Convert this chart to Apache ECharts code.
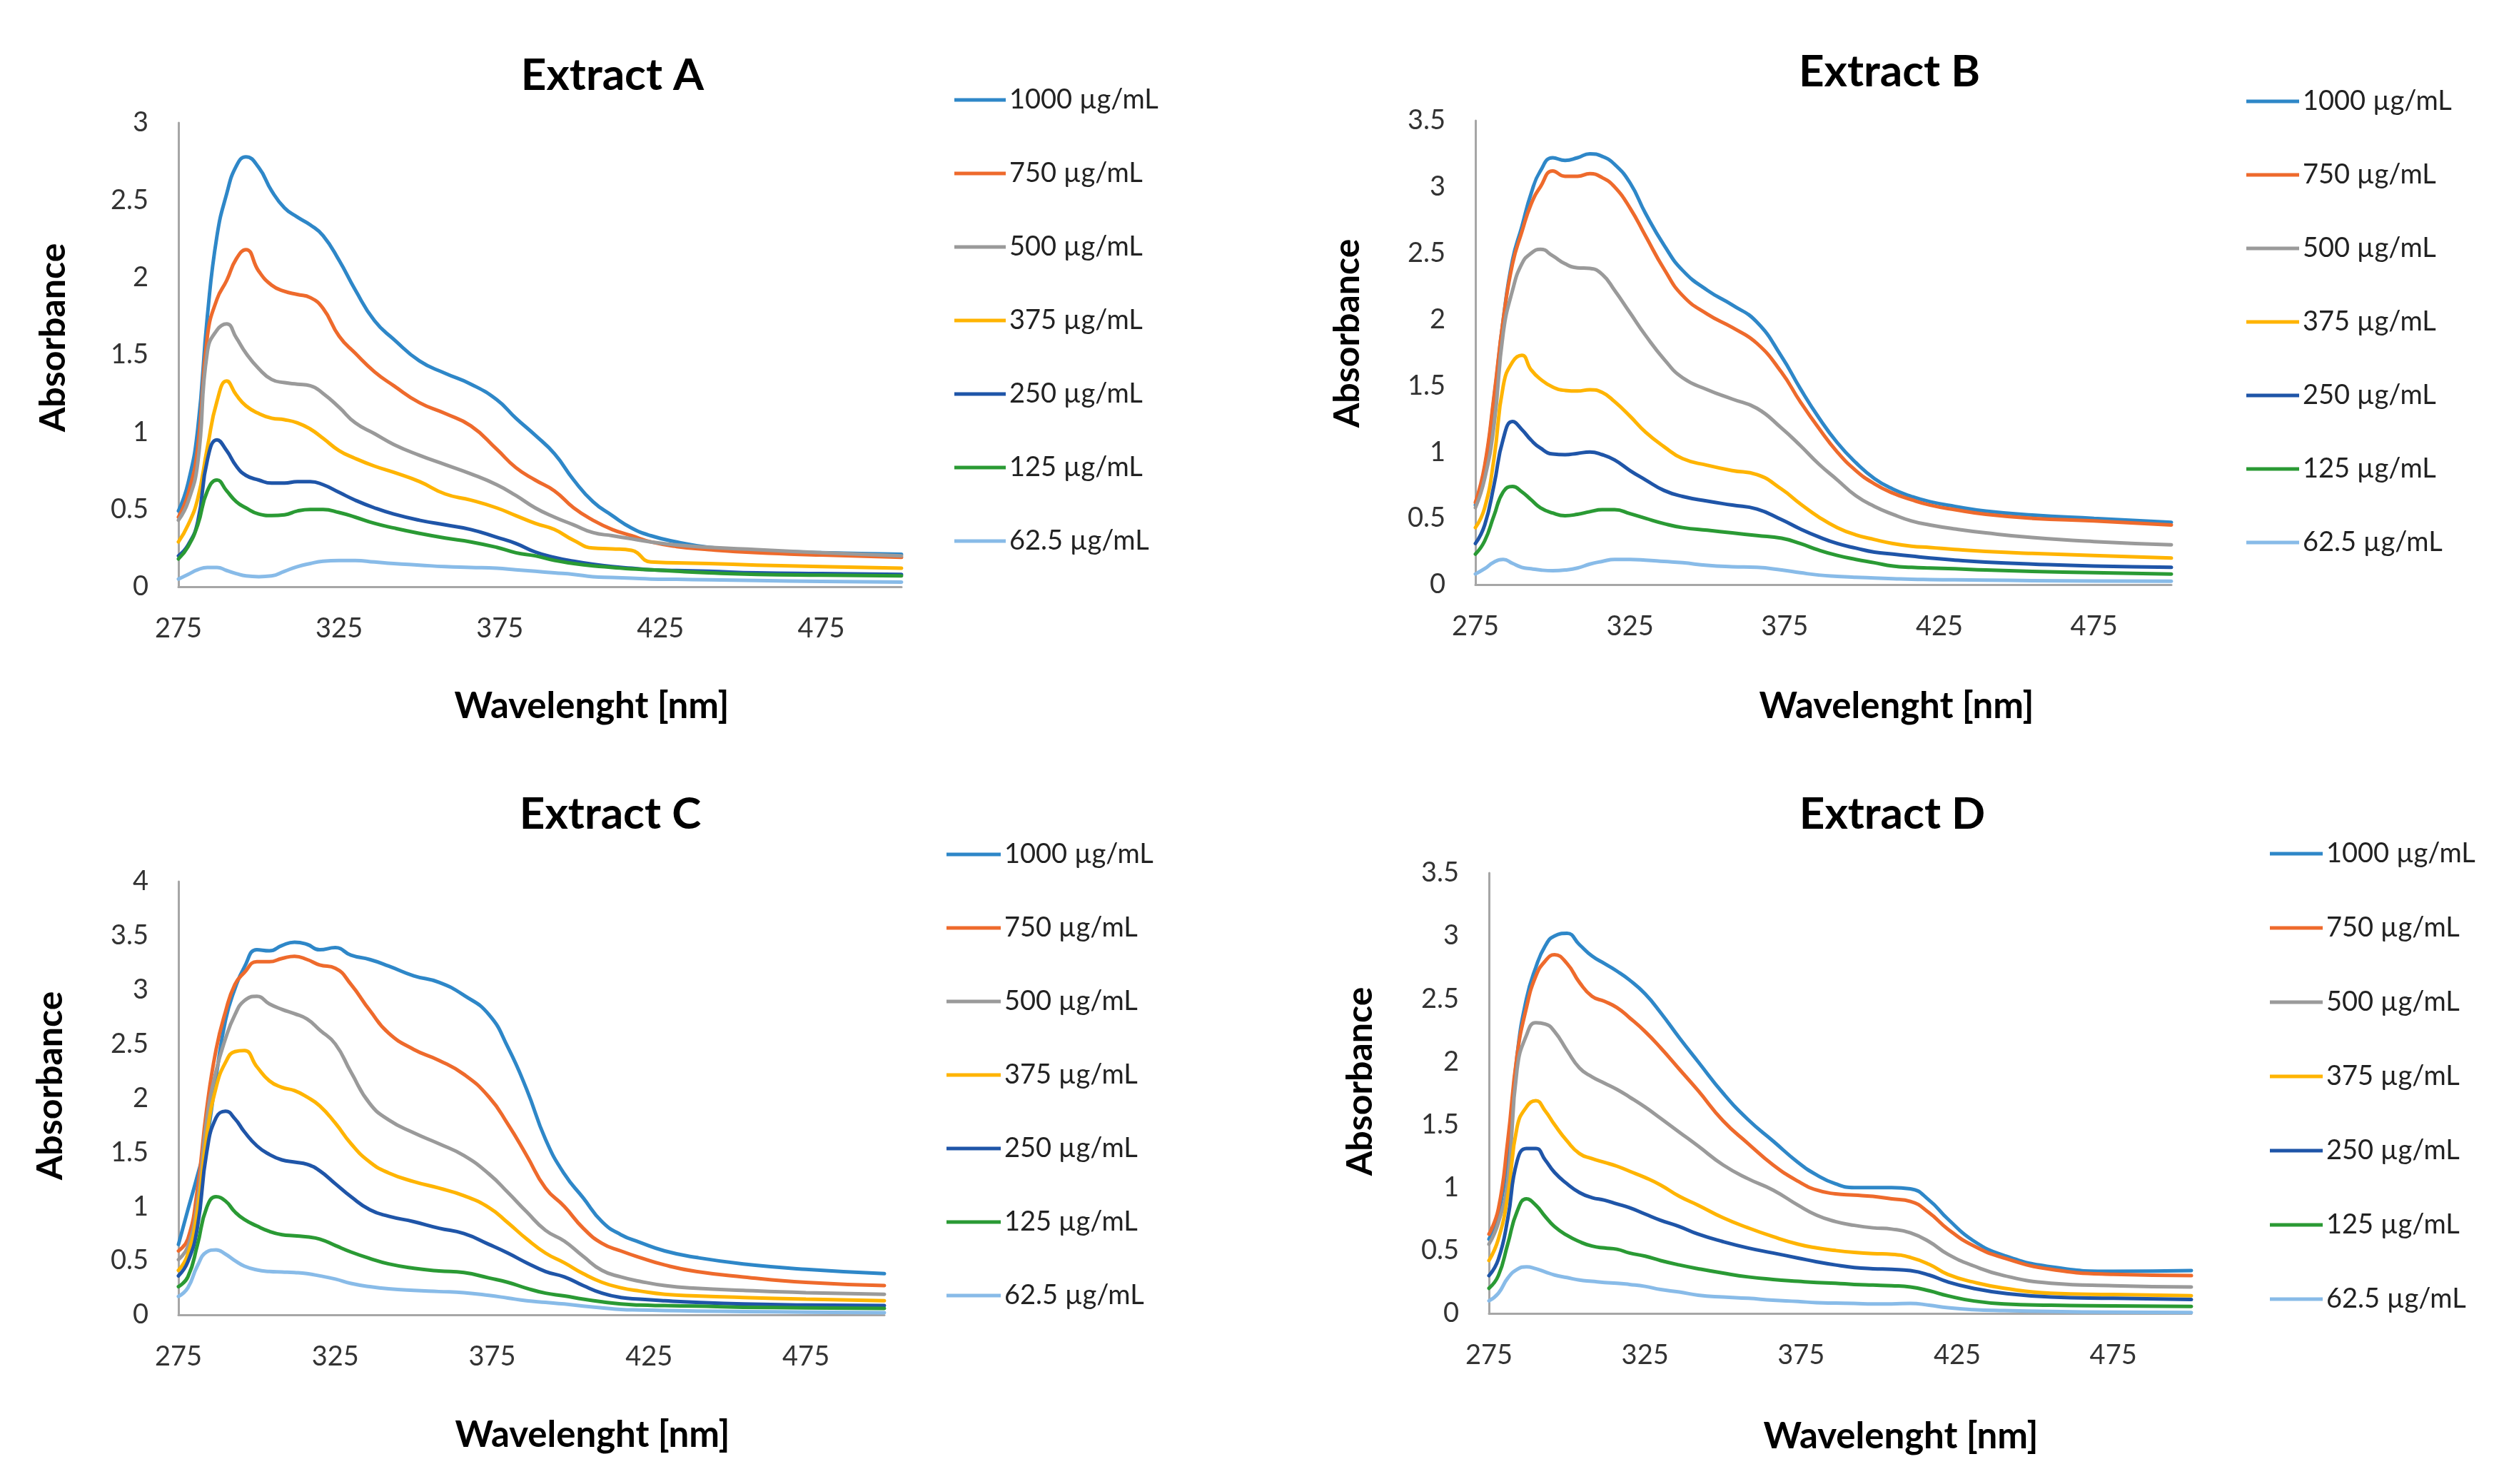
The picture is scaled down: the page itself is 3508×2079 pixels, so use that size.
<!DOCTYPE html>
<html>
<head>
<meta charset="utf-8">
<script src="https://cdn.jsdelivr.net/npm/echarts@6/dist/echarts.min.js"></script>
<style>
html,body{margin:0;padding:0;background:#fff;}
#chart{width:3508px;height:2079px;}
</style>
</head>
<body>
<div id="chart"></div>
<script>
// ---- shared wavelength grid (nm) ----
const wavelengths = [275,278,281,284,287,290,293,296,300,304,308,312,316,320,325,330,336,342,350,358,366,374,380,386,392,398,404,410,416,422,430,440,455,475,500];
const seriesNames = ['1000 µg/mL','750 µg/mL','500 µg/mL','375 µg/mL','250 µg/mL','125 µg/mL','62.5 µg/mL'];
const xTickLabels = [275,325,375,425,475];
const panelTitles = ['Extract A','Extract B','Extract C','Extract D'];
const yMaxes = [3,3.5,4,3.5];

// ---- Extract A ----
const a1000 = [0.49,0.67,1.02,1.75,2.27,2.54,2.72,2.78,2.71,2.56,2.45,2.39,2.34,2.27,2.11,1.92,1.72,1.60,1.46,1.38,1.31,1.21,1.09,0.98,0.86,0.69,0.55,0.46,0.38,0.33,0.29,0.255,0.235,0.22,0.21];
const a750  = [0.45,0.60,0.90,1.62,1.86,1.98,2.12,2.18,2.04,1.95,1.91,1.89,1.87,1.80,1.62,1.51,1.39,1.30,1.19,1.12,1.04,0.89,0.77,0.69,0.62,0.51,0.43,0.37,0.33,0.29,0.26,0.24,0.22,0.205,0.19];
const a500  = [0.43,0.55,0.80,1.52,1.66,1.70,1.61,1.51,1.41,1.34,1.32,1.31,1.30,1.25,1.16,1.06,0.99,0.92,0.85,0.79,0.73,0.66,0.59,0.51,0.45,0.40,0.35,0.33,0.31,0.29,0.27,0.255,0.24,0.22,0.20];
const a375  = [0.29,0.40,0.57,0.90,1.20,1.33,1.24,1.17,1.12,1.09,1.08,1.06,1.02,0.96,0.88,0.83,0.78,0.74,0.68,0.60,0.56,0.51,0.46,0.41,0.37,0.30,0.25,0.245,0.235,0.16,0.155,0.15,0.14,0.13,0.12];
const a250  = [0.20,0.27,0.42,0.82,0.95,0.88,0.78,0.72,0.69,0.67,0.67,0.68,0.68,0.66,0.61,0.56,0.51,0.47,0.43,0.40,0.37,0.32,0.28,0.225,0.19,0.165,0.145,0.13,0.12,0.11,0.105,0.10,0.09,0.085,0.08];
const a125  = [0.18,0.26,0.40,0.62,0.69,0.62,0.55,0.51,0.47,0.46,0.465,0.49,0.50,0.50,0.48,0.45,0.41,0.38,0.345,0.315,0.29,0.255,0.22,0.20,0.17,0.15,0.135,0.125,0.115,0.11,0.10,0.09,0.08,0.075,0.07];
const a62   = [0.05,0.08,0.11,0.125,0.125,0.105,0.085,0.07,0.065,0.07,0.10,0.13,0.15,0.165,0.17,0.17,0.16,0.15,0.14,0.13,0.125,0.12,0.11,0.10,0.09,0.08,0.065,0.06,0.055,0.05,0.048,0.045,0.04,0.035,0.03];

// ---- Extract B ----
const b1000 = [0.60,0.88,1.40,2.00,2.45,2.70,2.95,3.12,3.22,3.20,3.22,3.25,3.23,3.17,3.03,2.80,2.56,2.37,2.22,2.11,1.98,1.72,1.48,1.26,1.07,0.92,0.80,0.72,0.665,0.625,0.59,0.555,0.525,0.50,0.47];
const b750  = [0.62,0.90,1.42,2.00,2.42,2.66,2.87,3.00,3.12,3.08,3.08,3.10,3.07,3.00,2.84,2.63,2.38,2.18,2.04,1.94,1.82,1.60,1.38,1.18,1.00,0.86,0.76,0.69,0.64,0.60,0.565,0.53,0.50,0.48,0.45];
const b500  = [0.58,0.80,1.20,1.90,2.22,2.42,2.50,2.53,2.48,2.42,2.39,2.385,2.34,2.22,2.05,1.88,1.70,1.56,1.47,1.40,1.33,1.18,1.05,0.91,0.79,0.67,0.59,0.53,0.48,0.45,0.42,0.39,0.355,0.325,0.30];
const b375  = [0.43,0.58,0.95,1.50,1.68,1.73,1.62,1.55,1.49,1.465,1.46,1.47,1.45,1.38,1.27,1.15,1.04,0.95,0.90,0.86,0.83,0.72,0.61,0.51,0.43,0.375,0.34,0.31,0.29,0.28,0.265,0.25,0.235,0.22,0.20];
const b250  = [0.31,0.45,0.75,1.10,1.23,1.17,1.09,1.03,0.985,0.98,0.99,1.00,0.98,0.94,0.86,0.79,0.71,0.665,0.63,0.60,0.57,0.49,0.42,0.36,0.31,0.275,0.245,0.23,0.215,0.20,0.185,0.17,0.155,0.14,0.13];
const b125  = [0.23,0.33,0.52,0.70,0.74,0.70,0.64,0.58,0.54,0.52,0.53,0.55,0.565,0.565,0.535,0.50,0.46,0.43,0.41,0.39,0.37,0.35,0.31,0.26,0.22,0.19,0.165,0.14,0.13,0.125,0.12,0.11,0.10,0.09,0.08];
const b62   = [0.08,0.12,0.17,0.19,0.16,0.13,0.12,0.11,0.105,0.11,0.125,0.155,0.175,0.19,0.19,0.185,0.175,0.165,0.145,0.135,0.13,0.11,0.09,0.072,0.062,0.055,0.05,0.045,0.04,0.038,0.036,0.034,0.03,0.027,0.025];

// ---- Extract C ----
const c1000 = [0.65,0.97,1.28,1.62,2.20,2.72,3.01,3.21,3.37,3.36,3.41,3.44,3.42,3.37,3.39,3.32,3.28,3.22,3.13,3.07,2.95,2.77,2.47,2.08,1.62,1.30,1.08,0.86,0.74,0.67,0.59,0.53,0.47,0.42,0.38];
const c750  = [0.59,0.70,1.15,1.90,2.45,2.80,3.05,3.16,3.26,3.26,3.29,3.31,3.28,3.23,3.20,3.05,2.81,2.60,2.45,2.35,2.22,2.01,1.76,1.47,1.17,1.00,0.80,0.66,0.59,0.53,0.46,0.40,0.35,0.30,0.27];
const c500  = [0.51,0.63,1.02,1.80,2.25,2.55,2.77,2.90,2.94,2.87,2.82,2.78,2.73,2.63,2.50,2.24,1.95,1.80,1.68,1.58,1.47,1.30,1.13,0.95,0.78,0.68,0.54,0.41,0.35,0.31,0.27,0.245,0.225,0.205,0.19];
const c375  = [0.41,0.56,0.95,1.65,2.10,2.33,2.43,2.44,2.29,2.16,2.10,2.07,2.01,1.93,1.77,1.58,1.41,1.31,1.23,1.17,1.10,0.99,0.85,0.70,0.57,0.48,0.38,0.30,0.25,0.22,0.19,0.175,0.16,0.145,0.13];
const c250  = [0.36,0.49,0.80,1.50,1.82,1.88,1.81,1.69,1.56,1.48,1.43,1.41,1.39,1.33,1.21,1.09,0.97,0.91,0.86,0.80,0.75,0.65,0.57,0.48,0.40,0.35,0.27,0.20,0.16,0.145,0.13,0.115,0.10,0.09,0.085];
const c125  = [0.26,0.35,0.64,0.99,1.09,1.05,0.95,0.88,0.82,0.77,0.74,0.73,0.72,0.70,0.64,0.58,0.52,0.47,0.43,0.405,0.39,0.34,0.30,0.245,0.20,0.175,0.145,0.12,0.10,0.09,0.085,0.08,0.07,0.065,0.06];
const c62   = [0.17,0.25,0.45,0.58,0.60,0.56,0.50,0.45,0.415,0.40,0.395,0.39,0.38,0.36,0.33,0.29,0.26,0.24,0.225,0.215,0.205,0.18,0.155,0.13,0.115,0.10,0.08,0.065,0.05,0.045,0.04,0.035,0.03,0.025,0.02];

// ---- Extract D ----
const d1000 = [0.59,0.79,1.27,2.05,2.50,2.75,2.92,3.00,3.02,2.93,2.84,2.78,2.72,2.65,2.54,2.39,2.19,2.00,1.75,1.54,1.37,1.20,1.10,1.03,1.00,1.00,1.00,0.99,0.90,0.75,0.58,0.46,0.37,0.335,0.34];
const d750  = [0.63,0.83,1.37,2.05,2.43,2.68,2.80,2.85,2.78,2.63,2.52,2.48,2.43,2.35,2.24,2.11,1.94,1.77,1.53,1.35,1.18,1.05,0.98,0.95,0.94,0.93,0.91,0.89,0.80,0.67,0.54,0.44,0.35,0.31,0.30];
const d500  = [0.55,0.72,1.05,1.94,2.21,2.31,2.30,2.24,2.09,1.95,1.88,1.83,1.78,1.72,1.64,1.55,1.44,1.33,1.18,1.07,0.98,0.86,0.78,0.73,0.70,0.68,0.67,0.64,0.57,0.47,0.38,0.30,0.24,0.22,0.21];
const d375  = [0.42,0.59,0.93,1.48,1.64,1.69,1.61,1.50,1.37,1.27,1.23,1.20,1.17,1.13,1.08,1.02,0.93,0.86,0.76,0.68,0.61,0.55,0.52,0.50,0.485,0.475,0.47,0.445,0.39,0.31,0.25,0.20,0.16,0.15,0.14];
const d250  = [0.30,0.43,0.75,1.21,1.31,1.31,1.22,1.12,1.03,0.96,0.92,0.90,0.87,0.84,0.79,0.74,0.69,0.63,0.57,0.52,0.48,0.44,0.41,0.385,0.365,0.355,0.35,0.34,0.305,0.25,0.20,0.16,0.13,0.12,0.11];
const d125  = [0.20,0.30,0.55,0.81,0.91,0.86,0.77,0.69,0.62,0.57,0.535,0.52,0.51,0.48,0.455,0.42,0.385,0.355,0.32,0.29,0.27,0.255,0.245,0.24,0.23,0.225,0.22,0.21,0.18,0.14,0.10,0.075,0.065,0.06,0.055];
const d62   = [0.10,0.16,0.28,0.35,0.37,0.355,0.33,0.305,0.285,0.265,0.255,0.245,0.24,0.23,0.215,0.19,0.17,0.145,0.13,0.12,0.105,0.095,0.085,0.082,0.08,0.075,0.075,0.08,0.065,0.045,0.03,0.022,0.015,0.01,0.007];

const panelData = [
  [a1000,a750,a500,a375,a250,a125,a62],
  [b1000,b750,b500,b375,b250,b125,b62],
  [c1000,c750,c500,c375,c250,c125,c62],
  [d1000,d750,d500,d375,d250,d125,d62]
];

// ---- styling / layout ----
const colors = ['#2E87C8','#EE6A2C','#9A9A9A','#FFB400','#1F55A8','#2A9A34','#88BBE8'];
const FONT = 'Lato, "Open Sans", sans-serif';
const grids = [
  {left:250,  top:172,  width:1013, height:650},
  {left:2067, top:169,  width:975,  height:650},
  {left:250,  top:1235, width:989,  height:607},
  {left:2086, top:1223, width:984,  height:617}
];
const titlePos = [[858,106],[2647,101],[855,1141],[2651,1141]];
const xNamePos = [[829,990],[2657,990],[830,2011],[2663,2013]];
const yNamePos = [[75,473],[1888,467],[71,1521],[1906,1515]];
const legendPos = [
  {left:1332, top:113, itemWidth:72, itemGap:59},
  {left:3142, top:115, itemWidth:74, itemGap:59},
  {left:1321, top:1170, itemWidth:76, itemGap:59},
  {left:3175, top:1169, itemWidth:74, itemGap:60}
];

const axisLineStyle = {show:true, lineStyle:{color:'#A6A6A6', width:3}};

const xAxes = grids.map((g,i)=>({
  type:'value', gridIndex:i, min:275, max:500,
  axisLine:axisLineStyle, axisTick:{show:false}, splitLine:{show:false},
  axisLabel:{customValues:xTickLabels, fontSize:38, fontFamily:FONT, color:'#333', margin:40}
}));
const yAxes = grids.map((g,i)=>({
  type:'value', gridIndex:i, min:0, max:yMaxes[i], interval:0.5,
  axisLine:axisLineStyle, axisTick:{show:false}, splitLine:{show:false},
  axisLabel:{fontSize:38, fontFamily:FONT, color:'#333', margin:42}
}));

const series = [];
panelData.forEach((arrs,p)=>{
  arrs.forEach((vals,j)=>{
    series.push({
      type:'line', name:seriesNames[j], xAxisIndex:p, yAxisIndex:p,
      data: wavelengths.map((w,k)=>[w, vals[k]]),
      showSymbol:false, symbol:'none', smooth:0.5,
      lineStyle:{width:5, color:colors[j], cap:'round', join:'round'}, itemStyle:{color:colors[j]},
      emphasis:{disabled:true}, z: 2
    });
  });
});

const legends = legendPos.map(l=>({
  data:seriesNames, orient:'vertical', left:l.left, top:l.top,
  itemWidth:l.itemWidth, itemHeight:5, itemGap:l.itemGap, icon:'rect',
  selectedMode:false,
  textStyle:{fontSize:38, fontFamily:FONT, color:'#222', lineHeight:44}
}));

function txt(x,y,text,size,rot){
  return {type:'text', x:x, y:y, rotation:rot||0, silent:true,
    style:{text:text, fill:'#000', font:'bold '+size+'px '+FONT,
      align:'center', verticalAlign:'middle', textAlign:'center', textVerticalAlign:'middle'}};
}
const graphics = [];
panelTitles.forEach((t,i)=>{
  graphics.push(txt(titlePos[i][0], titlePos[i][1], t, 62));
  graphics.push(txt(xNamePos[i][0], xNamePos[i][1], 'Wavelenght [nm]', 51));
  graphics.push(txt(yNamePos[i][0], yNamePos[i][1], 'Absorbance', 50, Math.PI/2));
});

const chart = echarts.init(document.getElementById('chart'), null, {renderer:'canvas'});
chart.setOption({
  backgroundColor:'#ffffff',
  animation:false,
  grid: grids,
  xAxis: xAxes,
  yAxis: yAxes,
  legend: legends,
  series: series,
  graphic: graphics
});
</script>
</body>
</html>
